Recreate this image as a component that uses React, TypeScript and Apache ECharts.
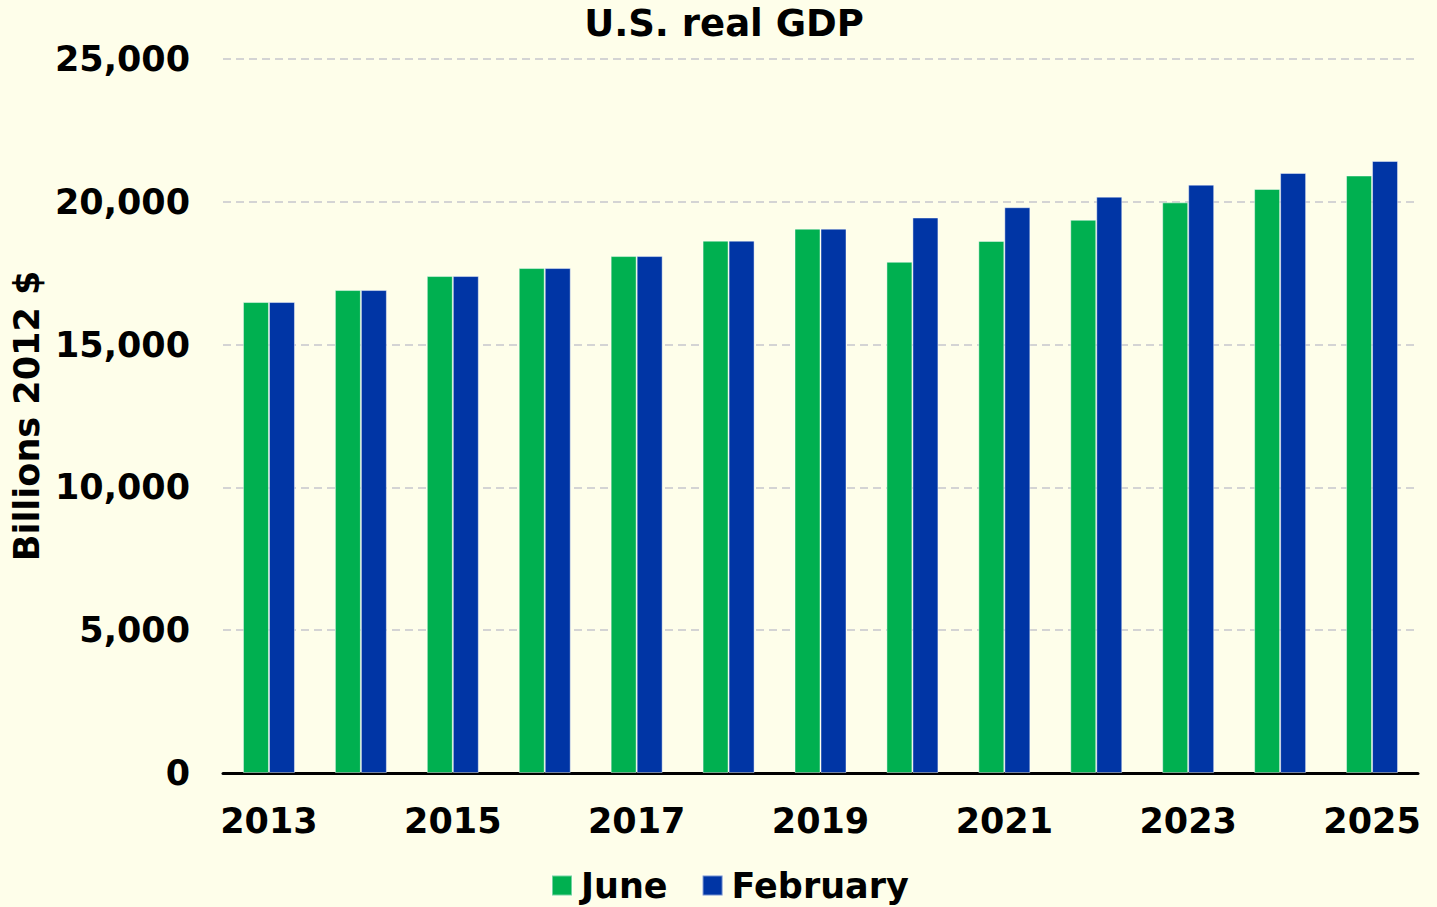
import React, { useEffect, useRef } from "react";
import * as echarts from "echarts";

const years = ["2013", "2014", "2015", "2016", "2017", "2018", "2019", "2020", "2021", "2022", "2023", "2024", "2025"];
const june = [16490, 16910, 17400, 17680, 18100, 18640, 19060, 17900, 18630, 19370, 19980, 20450, 20920];
const february = [16490, 16910, 17400, 17680, 18100, 18640, 19060, 19450, 19810, 20180, 20600, 21010, 21430];
const yTicks = [0, 5000, 10000, 15000, 20000, 25000];

const FONT = "DejaVu Sans";

export default function App() {
  const ref = useRef<HTMLDivElement>(null);
  useEffect(() => {
    if (!ref.current) return;
    const chart = echarts.init(ref.current, undefined, { renderer: "svg" });
    chart.setOption({
      animation: false,
      backgroundColor: "#fefeea",
      textStyle: { fontFamily: FONT },
      title: {
        text: "U.S. real GDP",
        left: 719,
        textAlign: "center",
        top: 0,
        textStyle: { fontFamily: FONT, fontWeight: "bold", fontSize: 37, color: "#000" },
      },
      legend: {
        top: 863,
        left: 546,
        itemWidth: 20,
        itemHeight: 20,
        itemGap: 34,
        icon: "rect",
        textStyle: { fontFamily: FONT, fontWeight: "bold", fontSize: 35, color: "#000", padding: [0, 0, 0, 4] },
        data: ["June", "February"],
      },
      grid: { left: 223, right: 19, top: 59, bottom: 134, containLabel: false, outerBoundsMode: "none" },
      xAxis: {
        type: "category",
        data: years,
        axisLine: { lineStyle: { color: "#000", width: 3 } },
        axisTick: { show: false },
        axisLabel: {
          interval: 1,
          fontFamily: FONT,
          fontWeight: "bold",
          fontSize: 35,
          color: "#000",
          margin: 30,
        },
      },
      yAxis: {
        type: "value",
        min: yTicks[0],
        max: yTicks[yTicks.length - 1],
        interval: 5000,
        name: "Billions 2012 $",
        nameLocation: "middle",
        nameGap: 177,
        nameTextStyle: { fontFamily: FONT, fontWeight: "bold", fontSize: 35, color: "#000" },
        axisLine: { show: false },
        axisTick: { show: false },
        splitLine: { lineStyle: { color: "#d4d4d4", width: 2, type: [8, 5] } },
        axisLabel: {
          fontFamily: FONT,
          fontWeight: "bold",
          fontSize: 35,
          color: "#000",
          margin: 33,
          formatter: (v: number) => v.toLocaleString("en-US"),
        },
      },
      series: [
        {
          name: "June",
          type: "bar",
          data: june,
          barWidth: 26,
          barGap: "0%",
          itemStyle: { color: "#00b050", borderColor: "rgba(255,255,255,0.45)", borderWidth: 1 },
        },
        {
          name: "February",
          type: "bar",
          data: february,
          barWidth: 26,
          barGap: "0%",
          itemStyle: { color: "#0035a5", borderColor: "rgba(255,255,255,0.45)", borderWidth: 1 },
        },
      ],
    });
    return () => chart.dispose();
  }, []);
  return <div ref={ref} style={{ width: 1437, height: 907, position: "absolute", left: 0, top: 0 }} />;
}
